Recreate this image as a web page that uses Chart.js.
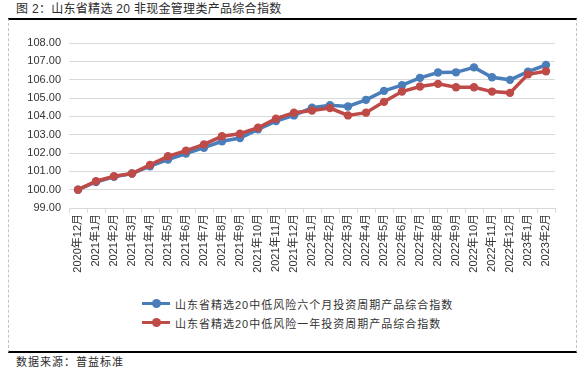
<!DOCTYPE html>
<html>
<head>
<meta charset="utf-8">
<script src="https://cdn.jsdelivr.net/npm/chart.js@4/dist/chart.umd.min.js"></script>
<style>
    body { margin: 0; width: 582px; height: 370px; position: relative; overflow: hidden; background: #fff;
           font-family: "Liberation Sans", "Noto Sans CJK SC", sans-serif; color: #2b2b2b; }
    #title { position: absolute; left: 16px; top: 1px; font-size: 12px; line-height: 16px; letter-spacing: 0.3px; }
    #frame { position: absolute; left: 8px; top: 18px; width: 567px; height: 331px;
             border-top: 2px solid #000; border-bottom: 2px solid #000;
             border-left: 1px dashed #c3c3c3; border-right: 1px dashed #c3c3c3; }
    #chart { position: absolute; left: 9px; top: 22px; }
    #legend { position: absolute; left: 142px; top: 294px; }
    .legend-item { display: flex; align-items: center; height: 19px; font-size: 11px; letter-spacing: 1px; color: #333; }
    .legend-swatch { position: relative; width: 28px; height: 3px; margin-right: 5px; }
    .legend-swatch i { position: absolute; left: 10px; top: -3px; width: 9px; height: 9px; border-radius: 50%; }
    #source { position: absolute; left: 16px; top: 355px; font-size: 11px; line-height: 14px; letter-spacing: 1px; }
</style>
</head>
<body>
<div id="title">图 2：山东省精选 20 非现金管理类产品综合指数</div>
<div id="frame"></div>
<canvas id="chart" width="567" height="262"></canvas>
<div id="legend"></div>
<div id="source">数据来源：普益标准</div>
<script>
const months = [
    '2020年12月', '2021年1月', '2021年2月', '2021年3月', '2021年4月', '2021年5月', '2021年6月',
    '2021年7月', '2021年8月', '2021年9月', '2021年10月', '2021年11月', '2021年12月',
    '2022年1月', '2022年2月', '2022年3月', '2022年4月', '2022年5月', '2022年6月',
    '2022年7月', '2022年8月', '2022年9月', '2022年10月', '2022年11月', '2022年12月',
    '2023年1月', '2023年2月'
];

const sixMonthName = '山东省精选20中低风险六个月投资周期产品综合指数';
const sixMonth = [
    100.00, 100.42, 100.70, 100.88, 101.28, 101.64, 101.97, 102.29, 102.64, 102.82,
    103.29, 103.74, 104.05, 104.47, 104.61, 104.54, 104.90, 105.39, 105.70, 106.10,
    106.39, 106.40, 106.67, 106.13, 105.99, 106.44, 106.80
];

const oneYearName = '山东省精选20中低风险一年投资周期产品综合指数';
const oneYear = [
    100.00, 100.46, 100.73, 100.88, 101.35, 101.82, 102.13, 102.47, 102.91, 103.05,
    103.38, 103.87, 104.20, 104.32, 104.45, 104.05, 104.20, 104.79, 105.35, 105.63,
    105.77, 105.59, 105.59, 105.35, 105.28, 106.29, 106.46
];

const yMin = 99;
const yMax = 108;

const BLUE = '#4a7ebb';
const RED = '#be4b48';
const GRID = '#d9d9d9';
const TEXT = '#333333';
const FONT = '"Liberation Sans", "Noto Sans CJK SC", sans-serif';

function lineDataset(label, data, color, order) {
    return {
        label,
        data,
        borderColor: color,
        backgroundColor: color,
        borderWidth: 3.5,
        pointRadius: 4.2,
        pointBorderWidth: 0,
        pointBackgroundColor: color,
        tension: 0,
        order
    };
}

const datasets = [
    lineDataset(sixMonthName, sixMonth, BLUE, 2),
    lineDataset(oneYearName, oneYear, RED, 1)
];

new Chart(document.getElementById('chart'), {
    type: 'line',
    data: { labels: months, datasets },
    options: {
        responsive: false,
        animation: false,
        layout: { padding: { top: 21, right: 21, left: 0, bottom: 0 } },
        plugins: {
            legend: { display: false },
            tooltip: { enabled: false }
        },
        scales: {
            y: {
                min: yMin,
                max: yMax,
                afterFit: s => { s.width = 60; },
                border: { display: false },
                grid: { color: GRID, drawTicks: false, lineWidth: 1 },
                ticks: {
                    stepSize: 1,
                    padding: 8,
                    color: TEXT,
                    font: { family: FONT, size: 11 },
                    callback: v => v.toFixed(2)
                }
            },
            x: {
                offset: true,
                afterFit: s => { s.height = 76; },
                border: { display: true, color: GRID },
                grid: { offset: true, drawOnChartArea: false, drawTicks: true, tickLength: 5, color: GRID },
                ticks: {
                    autoSkip: false,
                    minRotation: 90,
                    maxRotation: 90,
                    padding: 1,
                    color: TEXT,
                    font: { family: FONT, size: 11 }
                }
            }
        }
    }
});

// legend rows, built from the same datasets
const legend = document.getElementById('legend');
datasets.forEach(ds => {
    const row = document.createElement('div');
    row.className = 'legend-item';
    row.innerHTML = '<span class="legend-swatch" style="background:' + ds.borderColor + '"><i style="background:' +
        ds.borderColor + '"></i></span><span>' + ds.label + '</span>';
    legend.appendChild(row);
});
</script>
</body>
</html>
